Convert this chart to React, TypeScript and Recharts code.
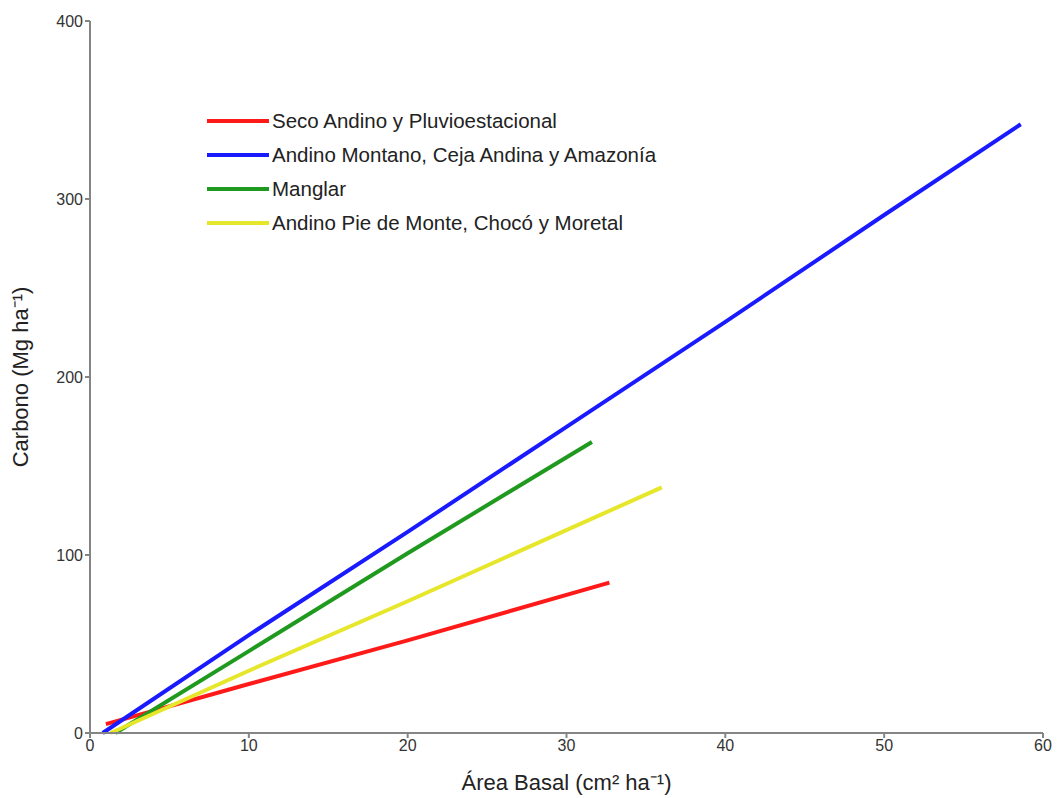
import { Line, LineChart, XAxis, YAxis } from "recharts";

const seriesNames = [
  "Seco Andino y Pluvioestacional",
  "Andino Montano, Ceja Andina y Amazonía",
  "Manglar",
  "Andino Pie de Monte, Chocó y Moretal",
];
const seriesColors = ["#ff1a1a", "#1a1aff", "#1f9a1f", "#e6e62a"];

const secoX = [1, 10, 20, 32.7];
const secoY = [5, 27.5, 52, 84.5];
const montanoX = [0.8, 10, 20, 30, 40, 50, 58.6];
const montanoY = [0, 55, 113, 172, 231, 291, 342];
const manglarX = [1.6, 10, 20, 31.6];
const manglarY = [0, 46, 101, 163.5];
const pieX = [1.3, 10, 20, 36];
const pieY = [0, 35, 74, 138];

const xTicks = [0, 10, 20, 30, 40, 50, 60];
const yTicks = [0, 100, 200, 300, 400];

const toPts = (xs: number[], ys: number[]) => xs.map((x, i) => ({ x, y: ys[i] }));
const series = [
  toPts(secoX, secoY),
  toPts(montanoX, montanoY),
  toPts(manglarX, manglarY),
  toPts(pieX, pieY),
];

const axisColor = "#858585";
const font = "Arial, 'Liberation Sans', sans-serif";

export default function App() {
  return (
    <div style={{ position: "absolute", left: 0, top: 0, width: 1057, height: 798, background: "#fff", fontFamily: font }}>
      <LineChart width={1057} height={798} margin={{ top: 21, right: 14, bottom: 0, left: 0 }}>
        <XAxis
          type="number"
          dataKey="x"
          domain={[0, 60]}
          ticks={xTicks}
          height={65}
          stroke={axisColor}
          strokeWidth={2}
          tickSize={5}
          tick={{ fontSize: 16, fill: "#333", fontFamily: font }}
          label={{ value: "Área Basal (cm² ha⁻¹)", position: "insideBottom", offset: 0, fontSize: 22, fill: "#222", fontFamily: font, dy: -8 }}
        />
        <YAxis
          type="number"
          domain={[0, 400]}
          ticks={yTicks}
          width={90}
          stroke={axisColor}
          strokeWidth={2}
          tickSize={5}
          tick={{ fontSize: 16, fill: "#333", fontFamily: font }}
          label={{ value: "Carbono (Mg ha⁻¹)", angle: -90, position: "insideLeft", offset: 20, fontSize: 22, fill: "#222", fontFamily: font, style: { textAnchor: "middle" } }}
        />
        {series.map((d, i) => (
          <Line
            key={seriesNames[i]}
            data={d}
            dataKey="y"
            type="linear"
            stroke={seriesColors[i]}
            strokeWidth={4}
            dot={false}
            isAnimationActive={false}
          />
        ))}
      </LineChart>
      <div style={{ position: "absolute", left: 207, top: 104 }}>
        {seriesNames.map((n, i) => (
          <div key={n} style={{ display: "flex", alignItems: "center", height: 34, fontSize: 20.5, color: "#222" }}>
            <div style={{ width: 62, height: 4, background: seriesColors[i], marginRight: 3 }} />
            {n}
          </div>
        ))}
      </div>
    </div>
  );
}
